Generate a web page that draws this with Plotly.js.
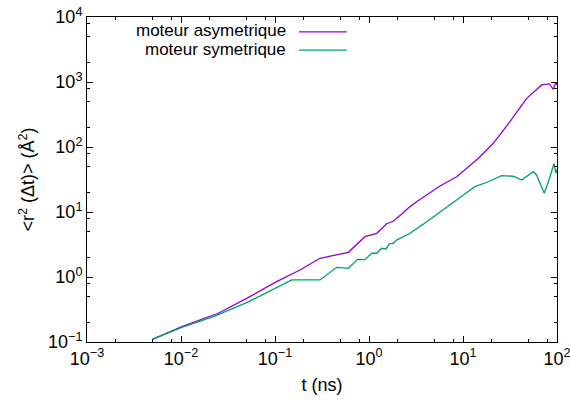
<!DOCTYPE html>
<html>
<head>
<meta charset="utf-8">
<script src="https://cdn.plot.ly/plotly-3.0.1.min.js"></script>
<style>html,body{margin:0;padding:0;background:#fff;}#chart{width:570px;height:400px;}</style>
</head>
<body>
<div id="chart"></div>
<script>
// Data
const seriesNames = ["moteur asymetrique", "moteur symetrique"];
const tAsym = [0.00503, 0.0102, 0.0249, 0.05, 0.104, 0.1845, 0.301, 0.603, 0.906, 1.21, 1.54, 1.81, 2.23, 2.73, 3.21, 4.11, 5.69, 8.57, 14.6, 21.0, 31.6, 47.6, 68.7, 82.8, 91.4, 97.5, 100];
const rAsym = [0.111, 0.172, 0.277, 0.47, 0.847, 1.28, 1.94, 2.40, 4.17, 4.7, 6.6, 7.2, 9.3, 12.1, 14.4, 18.3, 25.1, 34.9, 67, 114, 245, 561, 900, 935, 773, 988, 900];
const tSym = [0.00503, 0.0102, 0.0221, 0.05, 0.151, 0.301, 0.453, 0.603, 0.759, 0.906, 1.07, 1.21, 1.36, 1.52, 1.64, 1.81, 1.97, 2.14, 2.42, 2.73, 3.78, 5.69, 7.28, 10.1, 13.4, 18.6, 25.8, 34.3, 42.0, 56.0, 60.6, 73.3, 84.3, 92.9, 97.5, 100];
const rSym = [0.111, 0.168, 0.245, 0.403, 0.90, 0.90, 1.41, 1.36, 1.87, 1.85, 2.32, 2.32, 2.77, 2.7, 3.23, 3.3, 3.7, 3.93, 4.2, 4.7, 6.5, 10.1, 12.8, 18.3, 24.5, 29.2, 36.2, 35.5, 31.0, 41.7, 37.1, 19.4, 34.9, 56.1, 39.4, 45];
const xTickVals = [0.001, 0.01, 0.1, 1, 10, 100];
const xTickText = ["10<sup>−3</sup>", "10<sup>−2</sup>", "10<sup>−1</sup>", "10<sup>0</sup>", "10<sup>1</sup>", "10<sup>2</sup>"];
const yTickVals = [0.1, 1, 10, 100, 1000, 10000];
const yTickText = ["10<sup>−1</sup>", "10<sup>0</sup>", "10<sup>1</sup>", "10<sup>2</sup>", "10<sup>3</sup>", "10<sup>4</sup>"];
const minorMantissas = [2, 5, 8];
const colors = ["#9400d3", "#009e73"];

function minorTicks(majors) {
  const out = [];
  majors.slice(0, -1).forEach(function (d) { minorMantissas.forEach(function (m) { out.push(d * m); }); });
  return out;
}

const traces = [
  {x: tAsym, y: rAsym, type: "scatter", mode: "lines", name: seriesNames[0], line: {color: colors[0], width: 1.3}},
  {x: tSym, y: rSym, type: "scatter", mode: "lines", name: seriesNames[1], line: {color: colors[1], width: 1.3}}
];

const font = {family: "Liberation Sans, Arial, sans-serif", size: 18, color: "#000"};
const legendFont = {family: "Liberation Sans, Arial, sans-serif", size: 17, color: "#000"};
const axisCommon = {
  type: "log", showgrid: false, zeroline: false, showline: true, linecolor: "#000", linewidth: 1,
  mirror: "allticks", ticks: "inside", ticklen: 6, tickcolor: "#000", tickwidth: 1,
  tickfont: font, ticklabeloverflow: "allow"
};

const layout = {
  width: 570, height: 400,
  margin: {l: 87, r: 13, t: 17, b: 58},
  paper_bgcolor: "#fff", plot_bgcolor: "#fff",
  font: font,
  showlegend: false,
  xaxis: Object.assign({}, axisCommon, {range: [-3, 2], tickmode: "array", tickvals: xTickVals, ticktext: xTickText,
    minor: {tickmode: "array", tickvals: minorTicks(xTickVals), ticks: "inside", ticklen: 3, tickcolor: "#000", showgrid: false},
    title: {text: "t (ns)", font: font, standoff: 10}}),
  yaxis: Object.assign({}, axisCommon, {range: [-1, 4], tickmode: "array", tickvals: yTickVals, ticktext: yTickText,
    minor: {tickmode: "array", tickvals: minorTicks(yTickVals), ticks: "inside", ticklen: 3, tickcolor: "#000", showgrid: false},
    title: {text: "<r<sup>2</sup> (Δt)> (Å<sup>2</sup>)", font: font, standoff: 8}}),
  annotations: [
    {xref: "paper", yref: "paper", x: 0.4277, y: 0.957, xanchor: "right", yanchor: "middle", text: seriesNames[0], showarrow: false, font: legendFont},
    {xref: "paper", yref: "paper", x: 0.4277, y: 0.899, xanchor: "right", yanchor: "middle", text: seriesNames[1], showarrow: false, font: legendFont}
  ],
  shapes: [
    {type: "line", xref: "paper", yref: "paper", x0: 0.451, x1: 0.553, y0: 0.954, y1: 0.954, line: {color: colors[0], width: 1.3}},
    {type: "line", xref: "paper", yref: "paper", x0: 0.451, x1: 0.553, y0: 0.898, y1: 0.898, line: {color: colors[1], width: 1.3}}
  ]
};

Plotly.newPlot("chart", traces, layout, {displayModeBar: false, staticPlot: true});
</script>
</body>
</html>
